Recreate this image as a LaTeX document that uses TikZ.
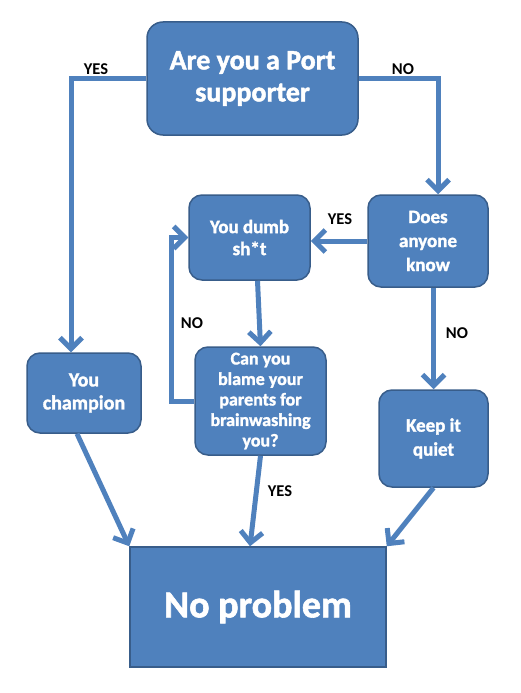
\documentclass[tikz,border=0pt]{standalone}
\usepackage{fontspec}
\setmainfont{Carlito}
\newfontfamily\heavy{Carlito}[BoldFeatures={FakeBold=1.6}]
\usetikzlibrary{arrows.meta}
\definecolor{boxfill}{RGB}{79,129,189}
\definecolor{boxline}{RGB}{56,93,138}
\definecolor{connblue}{RGB}{79,129,189}
\begin{document}
\begin{tikzpicture}[x=1pt,y=-1pt,
  box/.style={draw=boxline, line width=1.5pt, fill=boxfill, rounded corners=13pt,
    text=white, align=center, inner sep=0pt},
  link/.style={draw=connblue, line width=5pt, -{Straight Barb[length=11pt,width=22pt]}},
  lbl/.style={font=\bfseries\fontsize{16.5}{19}\selectfont, text=black, inner sep=0pt}]
\useasboundingbox[fill=white] (0,0) rectangle (520,693);

\node[box, minimum width=211pt, minimum height=113pt, rounded corners=16pt,
  font=\heavy\bfseries\fontsize{28}{32}\selectfont] (top) at (252.5,78.5) {Are you a Port\\supporter};
\node[box, minimum width=120pt, minimum height=92pt,
  font=\heavy\bfseries\fontsize{19}{24}\selectfont] (does) at (428,241) {Does\\anyone\\know};
\node[box, minimum width=121pt, minimum height=85pt,
  font=\heavy\bfseries\fontsize{19}{22}\selectfont] (dumb) at (249.5,237.5) {You dumb\\sh*t};
\node[box, minimum width=131pt, minimum height=108pt,
  font=\heavy\bfseries\fontsize{18}{20.5}\selectfont] (canyou) at (260.5,401) {Can you\\blame your\\parents for\\brainwashing\\you?};
\node[box, minimum width=114pt, minimum height=80pt,
  font=\heavy\bfseries\fontsize{20}{23}\selectfont] (champ) at (84,393) {You\\champion};
\node[box, minimum width=109pt, minimum height=97pt,
  font=\heavy\bfseries\fontsize{19}{24}\selectfont] (quiet) at (433.5,438.5) {Keep it\\quiet};
\node[box, minimum width=256pt, minimum height=120pt, rounded corners=0pt,
  font=\heavy\bfseries\fontsize{38}{44}\selectfont] (noprob) at (258,607) {No problem};

\draw[link] (top.west) -| ([xshift=-13pt]champ.north);
\draw[link] (top.east) -| ([xshift=10pt]does.north);
\draw[link] (does.west) -- (dumb.east |- does.west);
\draw[link] (quiet.north |- does.south) -- (quiet.north);
\draw[link] ([xshift=8pt]dumb.south) -- (canyou.north);
\draw[link] (canyou.west) -| ([xshift=-17pt]dumb.west) -- (dumb.west);
\draw[link] (canyou.south) -- ([xshift=-8pt]noprob.north);
\draw[link] ([xshift=-7pt]champ.south) -- (noprob.north west);
\draw[link] (quiet.south) -- (noprob.north east);

\node[lbl] (l1) at (96,69) {YES};
\node[lbl] (l2) at (403,69) {NO};
\node[lbl] (l3) at (340,219) {YES};
\node[lbl] (l4) at (457,333) {NO};
\node[lbl] (l5) at (192,323) {NO};
\node[lbl] (l6) at (280,491) {YES};
\end{tikzpicture}
\end{document}
